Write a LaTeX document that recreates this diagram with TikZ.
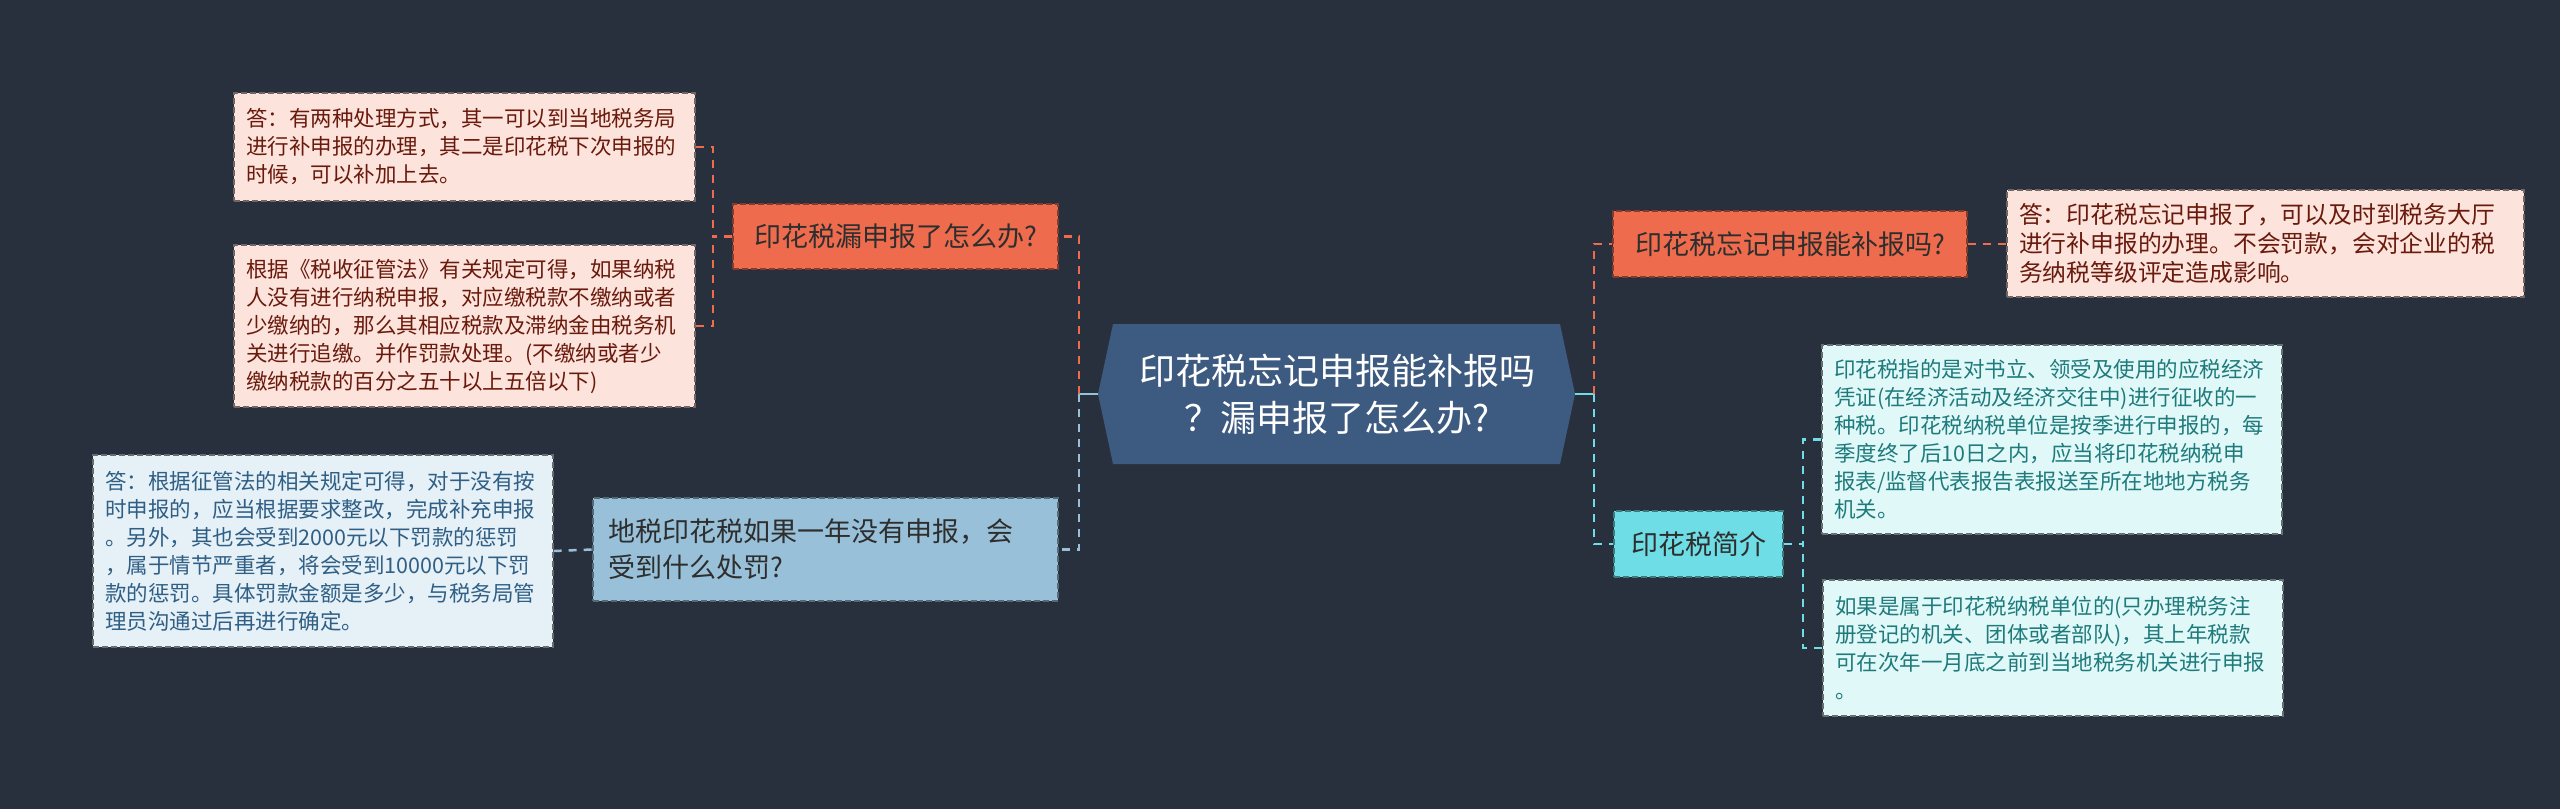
\documentclass[tikz,border=0pt]{standalone}
\usepackage{fontspec}
\newfontfamily\cjk{Noto Sans CJK SC}
\definecolor{bg}{HTML}{28303E}
\definecolor{centralc}{HTML}{3D5A80}
\definecolor{orangec}{HTML}{EE6C4D}
\definecolor{pinkc}{HTML}{FCE3DC}
\definecolor{pinktxt}{HTML}{6A1A0C}
\definecolor{lbluec}{HTML}{98C1D9}
\definecolor{bleafc}{HTML}{E6F0F7}
\definecolor{btxt}{HTML}{2F5F85}
\definecolor{cyanc}{HTML}{6EDDE5}
\definecolor{cleafc}{HTML}{E0F8F8}
\definecolor{ctxt}{HTML}{1F7A7C}
\definecolor{darktxt}{HTML}{2E2E2E}
\tikzset{
  box/.style={rectangle, line width=1.3pt, dash pattern=on 6pt off 3pt, inner ysep=0pt},
  leafpink/.style={box, fill=pinkc, draw=pinkc!45!black, text=pinktxt, align=left, inner xsep=12pt,
    font=\cjk\fontsize{21.5}{28}\selectfont},
  leafblue/.style={box, fill=bleafc, draw=bleafc!45!black, text=btxt, align=left, inner xsep=12pt,
    font=\cjk\fontsize{21.5}{28}\selectfont},
  leafcyan/.style={box, fill=cleafc, draw=cleafc!45!black, text=ctxt, align=left, inner xsep=12pt,
    font=\cjk\fontsize{21.5}{28}\selectfont},
  topicor/.style={box, fill=orangec, draw=orangec!55!black, text=darktxt, inner xsep=15pt,
    font=\cjk\fontsize{27}{36}\selectfont},
  topicbl/.style={box, fill=lbluec, draw=lbluec!55!black, text=darktxt, inner xsep=15pt, align=left,
    font=\cjk\fontsize{27}{36}\selectfont},
  topiccy/.style={box, fill=cyanc, draw=cyanc!55!black, text=darktxt, inner xsep=15pt,
    font=\cjk\fontsize{27}{36}\selectfont},
  conn/.style={line width=2.5pt, dash pattern=on 8pt off 7pt},
  stub/.style={line width=2.5pt},
}
\begin{document}
\begin{tikzpicture}[x=1pt,y=-1pt]
\fill[bg] (0,0) rectangle (2560,809);
\useasboundingbox (0,0) rectangle (2560,809);

% central hexagon
\fill[centralc] (1098,394) -- (1113,324) -- (1560,324) -- (1575,394) -- (1560,464) -- (1113,464) -- cycle;
\coordinate (cL) at (1098,394);
\coordinate (cR) at (1575,394);
\node[font=\cjk\fontsize{36}{47}\selectfont, text=white, align=center] (c) at (1337,394)
  {印花税忘记申报能补报吗\\？漏申报了怎么办?};

% left topics
\node[topicor, minimum width=325pt, minimum height=65pt] (n1) at (895.5,236.5) {印花税漏申报了怎么办?};
\node[topicbl, minimum height=103pt, text width=435pt] (n2) at (825.5,549.5)
  {地税印花税如果一年没有申报，会\\受到什么处罚?};

% left leaves
\node[leafpink, minimum height=108pt, text width=437pt] (l1a) at (464.5,147)
  {答：有两种处理方式，其一可以到当地税务局\\进行补申报的办理，其二是印花税下次申报的\\时候，可以补加上去。};
\node[leafpink, minimum height=162pt, text width=437pt] (l1b) at (464.5,326)
  {根据《税收征管法》有关规定可得，如果纳税\\人没有进行纳税申报，对应缴税款不缴纳或者\\少缴纳的，那么其相应税款及滞纳金由税务机\\关进行追缴。并作罚款处理。(不缴纳或者少\\缴纳税款的百分之五十以上五倍以下)};
\node[leafblue, minimum height=192pt, text width=436pt] (l2) at (323,551)
  {答：根据征管法的相关规定可得，对于没有按\\时申报的，应当根据要求整改，完成补充申报\\。另外，其也会受到2000元以下罚款的惩罚\\，属于情节严重者，将会受到10000元以下罚\\款的惩罚。具体罚款金额是多少，与税务局管\\理员沟通过后再进行确定。};

% right topics
\node[topicor, minimum width=354pt, minimum height=66pt] (r1) at (1790,244) {印花税忘记申报能补报吗?};
\node[topiccy, minimum width=169pt, minimum height=66pt] (r2) at (1698.5,544) {印花税简介};

% right leaves
\node[leafpink, minimum height=107pt, text width=493pt, font=\cjk\fontsize{23.8}{29}\selectfont] (r1l) at (2265.5,243.5)
  {答：印花税忘记申报了，可以及时到税务大厅\\进行补申报的办理。不会罚款，会对企业的税\\务纳税等级评定造成影响。};
\node[leafcyan, minimum height=189pt, text width=436pt] (r2a) at (2052,439.5)
  {印花税指的是对书立、领受及使用的应税经济\\凭证(在经济活动及经济交往中)进行征收的一\\种税。印花税纳税单位是按季进行申报的，每\\季度终了后10日之内，应当将印花税纳税申\\报表/监督代表报告表报送至所在地地方税务\\机关。};
\node[leafcyan, minimum height=136pt, text width=436pt] (r2b) at (2053,648)
  {如果是属于印花税纳税单位的(只办理税务注\\册登记的机关、团体或者部队)，其上年税款\\可在次年一月底之前到当地税务机关进行申报\\。};

% connectors left
\coordinate (jl) at (1079,394);
\draw[stub, lbluec] (cL) -- (jl);
\draw[conn, orangec] (jl) |- (n1.east);
\draw[conn, lbluec] (jl) |- (n2.east);
\coordinate (j1) at (713,236.5);
\draw[conn, orangec] (n1.west) -- (j1);
\draw[conn, orangec] (l1a.east) -| (j1);
\draw[conn, orangec] (l1b.east) -| (j1);
\draw[conn, lbluec] (l2.east) -- (n2.west);

% connectors right
\coordinate (jr) at (1594,394);
\draw[stub, cyanc] (cR) -- (jr);
\draw[conn, orangec] (jr) |- (r1.west);
\draw[conn, cyanc] (jr) |- (r2.west);
\draw[conn, orangec] (r1.east) -- (r1l.west |- r1.east);
\coordinate (j2) at (1803,544);
\draw[conn, cyanc] (r2.east) -- (j2);
\draw[conn, cyanc] (r2a.west) -| (j2);
\draw[conn, cyanc] (r2b.west) -| (j2);
\end{tikzpicture}
\end{document}
